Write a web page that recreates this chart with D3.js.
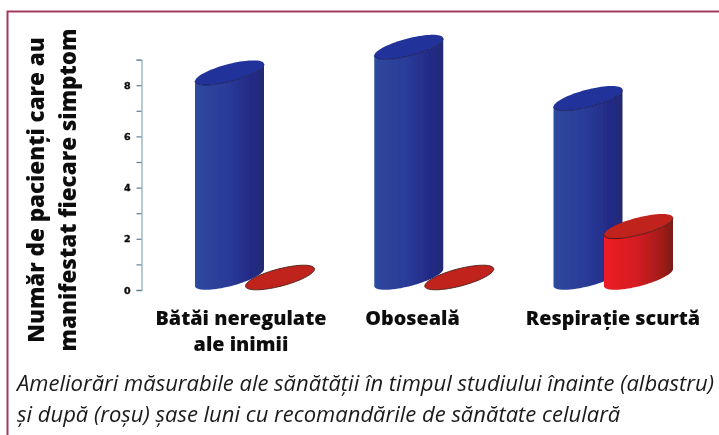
<!DOCTYPE html>
<html><head><meta charset="utf-8">
<script src="https://cdn.jsdelivr.net/npm/d3@7"></script>
<style>html,body{margin:0;padding:0;background:#fff}svg{display:block}</style></head>
<body><svg id="c" width="719" height="435"></svg>
<script>
const categories = ["Bătăi neregulate", "Oboseală", "Respirație scurtă"];
const categoryLines = [["Bătăi neregulate","ale inimii"],["Oboseală"],["Respirație scurtă"]];
const seriesNames = ["albastru","roșu"];
const before = [8, 9, 7];
const after = [0, 0, 2];
const tickValues = [0,1,2,3,4,5,6,7,8,9];
const yTitle = ["Număr de pacienți care au","manifestat fiecare simptom"];
const caption = ["Ameliorări măsurabile ale sănătății în timpul studiului înainte (albastru)","și după (roșu) șase luni cu recomandările de sănătate celulară"];

const svg = d3.select("#c");
const defs = svg.append("defs");
function grad(id, stops){
  const g = defs.append("linearGradient").attr("id",id);
  stops.forEach(s=>g.append("stop").attr("offset",s[0]).attr("stop-color",s[1]));
}
grad("gb",[[0,"#24569e"],[0.04,"#2f479e"],[0.5,"#293a97"],[0.85,"#232985"],[1,"#202a72"]]);
grad("gr",[[0,"#ee1c25"],[0.45,"#d61f23"],[0.85,"#a01b17"],[1,"#7a1a13"]]);
defs.append("filter").attr("id","soft").append("feGaussianBlur").attr("stdDeviation",0.55);
defs.append("filter").attr("id","softT").append("feGaussianBlur").attr("stdDeviation",0.3);

// frame
svg.append("path").attr("d","M719,11.5H7.5V435").attr("fill","none").attr("stroke","#a33a5c").attr("stroke-width",2);

const y = d3.scaleLinear().domain([0,9]).range([290,59.6]);
const x0 = d3.scalePoint().domain(categories).range([254.75,613.25]);
const x1 = d3.scalePoint().domain(seriesNames).range([-25.25,25.25]);
const baseY = y(0)-12.5;
const W=34.5, tilt=8.5, e=8.9;
const chart = svg.append("g").attr("filter","url(#soft)");

// axis
const axis = d3.axisLeft(y).tickValues(tickValues).tickSize(5).tickPadding(6)
  .tickFormat(d=> d%2===0 ? d : "");
const ag = chart.append("g").attr("transform","translate(141.5,0)").call(axis);
ag.select(".domain").attr("stroke","#9db4c4").attr("stroke-width",1.4);
ag.selectAll(".tick line").attr("stroke","#5f7f93").attr("stroke-width",1.2);
ag.selectAll(".tick text").attr("font-family","DejaVu Sans").attr("font-weight","bold")
  .attr("font-size",9.5).attr("fill","#111").attr("stroke","#111").attr("stroke-width",0.4);

const pt = (cx,cy,t)=>[cx+W*Math.cos(t), cy-tilt*Math.cos(t)+e*Math.sin(t)];
const line = d3.line();
function cyl(g,cx,v,name){
  const h = y(0)-y(v);
  const topY = baseY-h;
  const isBlue = name==="albastru";
  const capFill = isBlue ? "#22339b" : "#c0201f";
  const ts = d3.range(0,Math.PI*2,Math.PI/40);
  const front = d3.range(0,Math.PI+1e-6,Math.PI/40);
  if(v>0){
    const pts = front.map(t=>pt(cx,baseY,t)).concat(front.slice().reverse().map(t=>pt(cx,topY,t)));
    g.append("path").attr("d",line(pts)+"Z").attr("fill",`url(#${isBlue?"gb":"gr"})`);
    g.append("path").attr("d",line(ts.map(t=>pt(cx,topY,t)))+"Z").attr("fill",capFill);
    g.append("path").attr("d",line(front.map(t=>pt(cx,topY,t)))).attr("fill","none")
      .attr("stroke",isBlue?"#15164f":"#3a120e").attr("stroke-width",0.8);
  } else {
    g.append("path").attr("d",line(ts.map(t=>pt(cx,topY,t)))+"Z").attr("fill",capFill)
      .attr("stroke","#4a2018").attr("stroke-width",0.9);
  }
}
categories.forEach((c,i)=>{
  const g = chart.append("g");
  cyl(g,x0(c)+x1("albastru"),before[i],"albastru");
  cyl(g,x0(c)+x1("roșu"),after[i],"roșu");
});

const F="'Open Sans'";
const texts = svg.append("g").attr("filter","url(#softT)");
// y title
const yt = texts.append("g").attr("font-family",F).attr("font-weight",800).attr("fill","#111").attr("font-size",22.4).attr("text-anchor","middle");
[43.5,75.5].forEach((bx,i)=>yt.append("text").attr("transform",`translate(${bx},190) rotate(-90)`).text(yTitle[i]));
// category labels
const labelX=[241,412.5,613];
categories.forEach((c,i)=>{
  categoryLines[i].forEach((l,j)=>texts.append("text").attr("x",labelX[i]).attr("y",325+j*26)
    .attr("text-anchor","middle").attr("font-family",F).attr("font-weight",800).attr("font-size",19.8).attr("fill","#111").text(l));
});
// caption
caption.forEach((l,i)=>texts.append("text").attr("x",17).attr("y",391+i*31).attr("font-family",F).attr("font-style","italic")
  .attr("font-size",22).attr("fill","#1a1a1a").text(l));
</script></body></html>
